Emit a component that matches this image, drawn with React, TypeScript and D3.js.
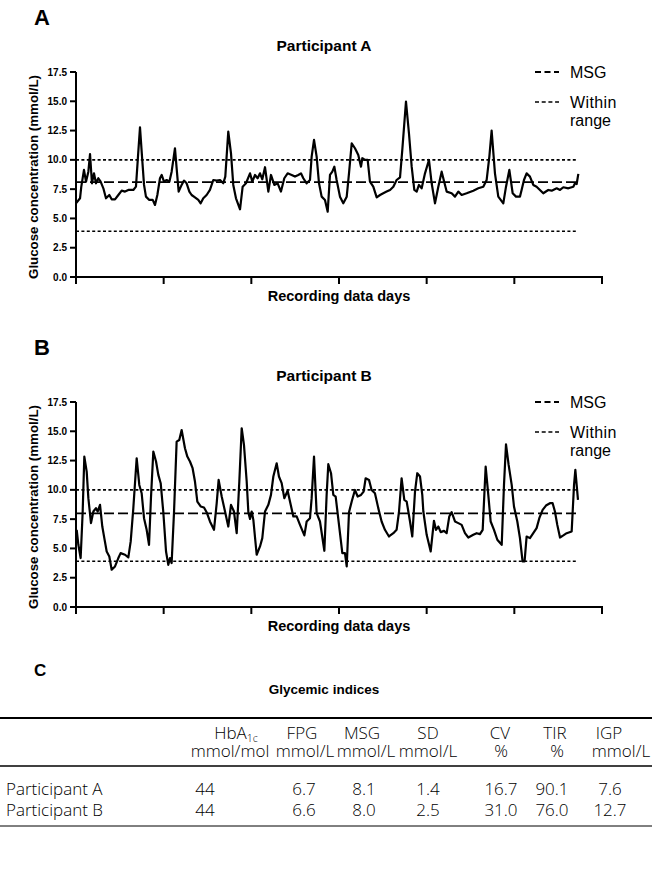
import React from "react";
import * as d3 from "d3";

// ---------- data ----------
const dayTicks = [0, 1, 2, 3, 4, 5, 6];
const yTicks = [0, 2.5, 5, 7.5, 10, 12.5, 15, 17.5];

const tA = [0.0, 0.046, 0.06, 0.091, 0.114, 0.141, 0.16, 0.182, 0.205, 0.228, 0.255, 0.281, 0.312, 0.342, 0.38, 0.407, 0.445, 0.483, 0.521, 0.559, 0.597, 0.654, 0.684, 0.707, 0.73, 0.753, 0.776, 0.798, 0.836, 0.875, 0.901, 0.928, 0.958, 0.977, 1.004, 1.034, 1.065, 1.091, 1.129, 1.148, 1.171, 1.205, 1.232, 1.262, 1.293, 1.319, 1.357, 1.395, 1.422, 1.452, 1.49, 1.528, 1.566, 1.605, 1.643, 1.68, 1.703, 1.737, 1.768, 1.794, 1.825, 1.871, 1.901, 1.939, 1.985, 2.011, 2.042, 2.072, 2.099, 2.125, 2.156, 2.194, 2.224, 2.262, 2.3, 2.338, 2.376, 2.414, 2.46, 2.498, 2.536, 2.566, 2.593, 2.631, 2.669, 2.688, 2.715, 2.745, 2.772, 2.802, 2.84, 2.871, 2.897, 2.924, 2.947, 2.973, 3.011, 3.049, 3.088, 3.114, 3.145, 3.182, 3.22, 3.251, 3.266, 3.296, 3.327, 3.353, 3.391, 3.43, 3.468, 3.505, 3.543, 3.582, 3.62, 3.657, 3.696, 3.722, 3.764, 3.798, 3.829, 3.859, 3.886, 3.912, 3.943, 3.981, 4.026, 4.057, 4.095, 4.133, 4.171, 4.228, 4.285, 4.323, 4.361, 4.399, 4.456, 4.532, 4.589, 4.646, 4.684, 4.715, 4.741, 4.779, 4.817, 4.874, 4.905, 4.943, 4.981, 5.019, 5.064, 5.083, 5.11, 5.14, 5.178, 5.216, 5.254, 5.292, 5.33, 5.387, 5.426, 5.483, 5.521, 5.559, 5.616, 5.673, 5.692, 5.711, 5.73];
const gA = [6.29, 6.72, 7.7, 9.14, 8.14, 8.99, 10.5, 8.0, 8.85, 8.0, 8.43, 8.14, 7.57, 6.72, 7.0, 6.63, 6.63, 7.0, 7.37, 7.29, 7.43, 7.43, 7.71, 10.28, 12.78, 10.28, 7.86, 6.86, 6.58, 6.58, 6.15, 7.0, 8.43, 8.71, 8.14, 8.28, 8.14, 8.99, 10.99, 9.28, 7.29, 7.86, 8.23, 8.0, 7.29, 7.0, 6.8, 6.58, 6.29, 6.72, 7.0, 7.43, 8.28, 8.23, 8.28, 8.0, 8.57, 12.41, 10.56, 7.86, 6.72, 5.78, 7.71, 8.0, 8.85, 8.14, 8.71, 8.43, 8.85, 8.34, 9.37, 7.29, 8.71, 7.86, 8.0, 7.29, 8.43, 8.85, 8.71, 8.57, 8.71, 8.85, 8.43, 8.0, 8.28, 10.28, 11.7, 10.28, 8.0, 6.86, 6.58, 5.58, 8.71, 8.99, 9.42, 8.28, 6.86, 6.29, 6.86, 8.85, 11.41, 10.99, 10.42, 9.42, 10.14, 9.99, 9.99, 8.14, 7.71, 6.8, 7.0, 7.15, 7.29, 7.43, 7.71, 8.28, 8.51, 10.85, 14.97, 12.27, 9.42, 7.43, 7.29, 7.86, 7.57, 8.85, 9.99, 8.0, 6.29, 7.71, 8.99, 7.29, 7.15, 6.86, 7.29, 7.0, 7.15, 7.37, 7.57, 7.71, 8.28, 10.28, 12.5, 8.85, 6.86, 6.29, 7.71, 9.14, 7.15, 6.86, 6.86, 7.43, 8.28, 8.85, 8.57, 7.86, 7.71, 7.43, 7.15, 7.43, 7.37, 7.57, 7.43, 7.66, 7.57, 7.71, 8.0, 7.94, 8.8];

const tB = [0.008, 0.027, 0.053, 0.076, 0.095, 0.122, 0.141, 0.171, 0.198, 0.228, 0.247, 0.274, 0.3, 0.323, 0.35, 0.38, 0.407, 0.445, 0.483, 0.509, 0.559, 0.597, 0.624, 0.654, 0.692, 0.722, 0.749, 0.776, 0.806, 0.833, 0.855, 0.882, 0.913, 0.939, 0.966, 0.996, 1.027, 1.053, 1.072, 1.091, 1.118, 1.148, 1.178, 1.205, 1.243, 1.27, 1.3, 1.33, 1.357, 1.384, 1.422, 1.46, 1.49, 1.528, 1.574, 1.605, 1.627, 1.662, 1.7, 1.737, 1.768, 1.802, 1.833, 1.863, 1.89, 1.916, 1.947, 1.966, 1.985, 2.004, 2.023, 2.061, 2.099, 2.125, 2.156, 2.194, 2.224, 2.251, 2.289, 2.315, 2.346, 2.376, 2.414, 2.441, 2.479, 2.517, 2.555, 2.605, 2.631, 2.669, 2.688, 2.715, 2.745, 2.783, 2.833, 2.859, 2.878, 2.909, 2.935, 2.962, 3.0, 3.038, 3.068, 3.088, 3.114, 3.145, 3.182, 3.213, 3.251, 3.281, 3.304, 3.342, 3.372, 3.41, 3.448, 3.486, 3.524, 3.57, 3.62, 3.657, 3.684, 3.714, 3.745, 3.772, 3.81, 3.836, 3.867, 3.893, 3.924, 3.95, 3.962, 4.0, 4.046, 4.083, 4.106, 4.133, 4.16, 4.198, 4.228, 4.258, 4.285, 4.323, 4.361, 4.399, 4.437, 4.475, 4.532, 4.57, 4.608, 4.639, 4.673, 4.703, 4.73, 4.768, 4.806, 4.856, 4.882, 4.905, 4.935, 4.97, 4.996, 5.034, 5.064, 5.094, 5.117, 5.14, 5.178, 5.216, 5.254, 5.285, 5.323, 5.361, 5.406, 5.437, 5.463, 5.49, 5.521, 5.559, 5.597, 5.654, 5.681, 5.696, 5.726];
const gB = [6.59, 5.31, 4.18, 8.09, 12.84, 11.56, 9.29, 7.16, 8.15, 8.44, 8.15, 8.72, 6.87, 5.88, 4.74, 4.31, 3.18, 3.46, 4.18, 4.6, 4.46, 4.23, 5.6, 8.44, 12.7, 10.42, 9.71, 7.58, 6.59, 5.31, 9.29, 13.27, 12.42, 11.28, 10.57, 8.09, 4.74, 3.6, 4.18, 3.75, 8.09, 14.12, 14.26, 15.11, 13.55, 12.84, 12.42, 11.85, 10.71, 9.0, 8.58, 8.49, 8.09, 7.3, 6.59, 8.86, 10.85, 9.43, 8.15, 6.87, 8.72, 8.15, 6.3, 10.71, 15.26, 13.84, 10.71, 8.09, 7.52, 8.15, 7.44, 4.46, 5.17, 5.88, 8.15, 8.72, 9.57, 11.14, 12.27, 11.14, 10.57, 9.29, 9.92, 9.0, 7.73, 7.73, 7.01, 6.11, 7.3, 7.58, 9.29, 12.84, 8.01, 7.3, 4.8, 9.57, 12.19, 11.42, 9.57, 9.43, 7.01, 4.6, 4.6, 3.46, 8.09, 9.0, 9.99, 9.43, 9.57, 9.85, 10.99, 10.85, 9.99, 9.71, 8.44, 7.3, 6.59, 6.02, 6.3, 6.59, 8.09, 10.99, 9.14, 9.0, 7.3, 6.02, 9.85, 11.42, 11.14, 9.57, 8.15, 6.16, 4.74, 7.36, 6.59, 6.87, 6.39, 6.5, 6.3, 7.73, 8.1, 7.3, 7.16, 7.01, 6.3, 5.93, 6.16, 6.3, 6.22, 6.59, 11.99, 9.57, 7.3, 6.59, 5.74, 5.31, 10.42, 13.89, 12.13, 10.42, 8.58, 7.3, 5.88, 3.89, 3.89, 6.02, 5.88, 6.3, 6.73, 7.58, 8.29, 8.66, 8.86, 8.86, 8.15, 7.01, 5.93, 6.11, 6.3, 6.45, 10.42, 11.71, 9.14];

const msgValues = [8.1, 8.0];
const rangeLimits = [3.9, 10.0];
const panelLetters = ["A", "B"];
const panelTitles = ["Participant A", "Participant B"];

const headerNames = ["HbA", "FPG", "MSG", "SD", "CV", "TIR", "IGP"];
const headerUnits = ["mmol/mol", "mmol/L", "mmol/L", "mmol/L", "%", "%", "mmol/L"];
const rowNames = ["Participant A", "Participant B"];
const rowAValues = ["44", "6.7", "8.1", "1.4", "16.7", "90.1", "7.6"];
const rowBValues = ["44", "6.6", "8.0", "2.5", "31.0", "76.0", "12.7"];

// ---------- layout ----------
const W = 652;
const H = 892;
const ARIAL = "'Liberation Sans', Arial, Helvetica, sans-serif";
const TABLE_FONT = "'Open Sans', 'Noto Sans', sans-serif";
const TFS = 17;

const headerX = [236, 302, 362, 428, 500, 555, 609];
const unitX = [230, 305, 366, 428, 501, 557, 621];
const valueX = [205, 304, 364, 428, 501, 552, 610];

function Panel({ top, letter, title, t, g, msg }) {
  const x = d3.scaleLinear().domain([0, 6]).range([76, 602]);
  const y = d3.scaleLinear().domain([0, 17.5]).range([top + 277, top + 72]);
  const pts = t.map((d, i) => [d, g[i]]);
  const line = d3
    .line()
    .x((d) => x(d[0]))
    .y((d) => y(d[1]));
  const tEnd = t[t.length - 1];
  return (
    <g>
      <text x={34} y={top + 25} fontFamily={ARIAL} fontWeight="bold" fontSize={22}>
        {letter}
      </text>
      <text x={324} y={top + 51} textAnchor="middle" fontFamily={ARIAL} fontWeight="bold" fontSize={15.5}>
        {title}
      </text>
      {/* reference lines */}
      <line x1={x(0)} x2={x(tEnd) - 2} y1={y(rangeLimits[1])} y2={y(rangeLimits[1])} stroke="#000" strokeWidth={1.6} strokeDasharray="3,2.4" />
      <line x1={x(0)} x2={x(tEnd) - 2} y1={y(rangeLimits[0])} y2={y(rangeLimits[0])} stroke="#000" strokeWidth={1.6} strokeDasharray="3,2.4" />
      <line x1={x(0)} x2={x(tEnd)} y1={y(msg)} y2={y(msg)} stroke="#000" strokeWidth={1.8} strokeDasharray="10,4" />
      {/* trace */}
      <path d={line(pts)} fill="none" stroke="#000" strokeWidth={2.2} strokeLinejoin="round" />
      {/* y axis */}
      <line x1={76} x2={76} y1={y(0) + 1} y2={y(17.5)} stroke="#000" strokeWidth={2} />
      {yTicks.map((v) => (
        <g key={v}>
          <line x1={70} x2={76} y1={y(v)} y2={y(v)} stroke="#000" strokeWidth={2} />
          <text x={67} y={y(v) + 3.6} textAnchor="end" fontFamily={ARIAL} fontWeight="bold" fontSize={10}>
            {d3.format(".1f")(v)}
          </text>
        </g>
      ))}
      {/* x axis */}
      <line x1={75} x2={603} y1={y(0)} y2={y(0)} stroke="#000" strokeWidth={2} />
      {dayTicks.map((d) => (
        <line key={d} x1={x(d)} x2={x(d)} y1={y(0)} y2={y(0) + 7} stroke="#000" strokeWidth={2} />
      ))}
      <text
        transform={`translate(38,${top + 177}) rotate(-90)`}
        textAnchor="middle"
        fontFamily={ARIAL}
        fontWeight="bold"
        fontSize={13.3}
      >
        Glucose concentration (mmol/L)
      </text>
      <text x={339} y={top + 301} textAnchor="middle" fontFamily={ARIAL} fontWeight="bold" fontSize={14.5}>
        Recording data days
      </text>
      {/* legend */}
      <line x1={535} x2={559} y1={top + 72} y2={top + 72} stroke="#000" strokeWidth={1.8} strokeDasharray="6,3.5" />
      <text x={570} y={top + 78} fontFamily={ARIAL} fontSize={16}>MSG</text>
      <line x1={535} x2={559} y1={top + 102} y2={top + 102} stroke="#000" strokeWidth={1.6} strokeDasharray="4,2.7" />
      <text x={570} y={top + 108} fontFamily={ARIAL} fontSize={16} letterSpacing={0.4}>Within</text>
      <text x={570} y={top + 126} fontFamily={ARIAL} fontSize={16}>range</text>
    </g>
  );
}

function Table() {
  const rows = [rowAValues, rowBValues];
  const rowY = [795, 816];
  return (
    <g>
      <text x={34} y={676} fontFamily={ARIAL} fontWeight="bold" fontSize={17}>C</text>
      <text x={324} y={694} textAnchor="middle" fontFamily={ARIAL} fontWeight="bold" fontSize={13.5}>
        Glycemic indices
      </text>
      <line x1={0} x2={W} y1={718} y2={718} stroke="#000" strokeWidth={2} />
      <line x1={0} x2={W} y1={766} y2={766} stroke="#000" strokeWidth={1.5} />
      <line x1={0} x2={W} y1={826} y2={826} stroke="#000" strokeWidth={1} />
      {headerNames.map((h, i) => (
        <text key={"h" + i} x={headerX[i]} y={739} textAnchor="middle" fontFamily={TABLE_FONT} fontWeight={300} fontSize={TFS}>
          {h}
          {i === 0 ? (
            <tspan fontSize={10.5} dy={3}>1c</tspan>
          ) : null}
        </text>
      ))}
      {headerUnits.map((u, i) => (
        <text key={"u" + i} x={unitX[i]} y={757} textAnchor="middle" fontFamily={TABLE_FONT} fontWeight={300} fontSize={TFS}>
          {u}
        </text>
      ))}
      {rows.map((r, ri) => (
        <g key={"r" + ri}>
          <text x={6} y={rowY[ri]} fontFamily={TABLE_FONT} fontWeight={300} fontSize={TFS}>
            {rowNames[ri]}
          </text>
          {r.map((v, i) => (
            <text key={i} x={valueX[i]} y={rowY[ri]} textAnchor="middle" fontFamily={TABLE_FONT} fontWeight={300} fontSize={TFS}>
              {v}
            </text>
          ))}
        </g>
      ))}
    </g>
  );
}

export default function App() {
  return (
    <svg
      width={W}
      height={H}
      viewBox={`0 0 ${W} ${H}`}
      style={{ position: "absolute", left: 0, top: 0, background: "#fff" }}
    >
      <rect x={0} y={0} width={W} height={H} fill="#fff" />
      <Panel top={0} letter={panelLetters[0]} title={panelTitles[0]} t={tA} g={gA} msg={msgValues[0]} />
      <Panel top={330} letter={panelLetters[1]} title={panelTitles[1]} t={tB} g={gB} msg={msgValues[1]} />
      <Table />
    </svg>
  );
}
